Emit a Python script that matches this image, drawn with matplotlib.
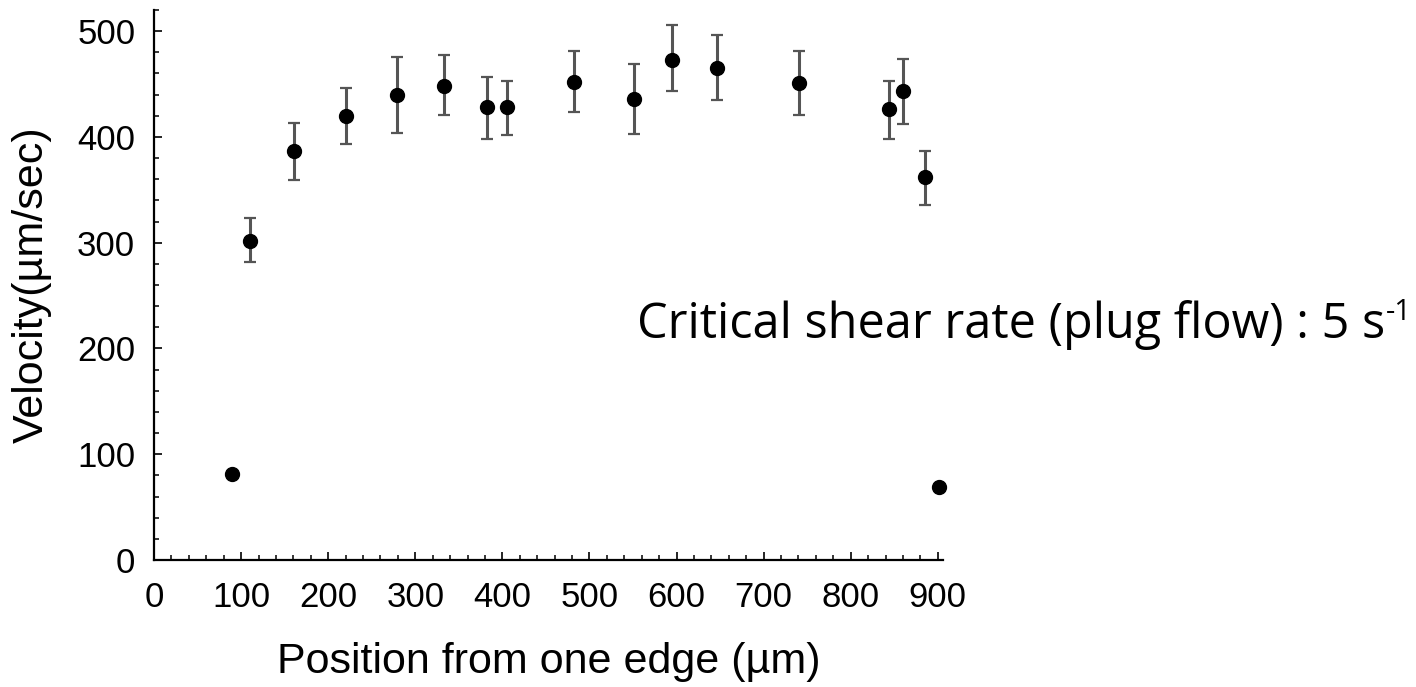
import matplotlib
matplotlib.use("Agg")
import matplotlib.pyplot as plt
from matplotlib.ticker import MultipleLocator

# Data
pos_err = [110, 161, 221, 279, 333, 382, 405, 482, 551, 595, 646, 741, 844, 860, 885]
vel_err = [302, 387, 420, 440, 448, 428, 428, 452, 436, 473, 465, 451, 426, 443, 362]
vel_lo = [282, 359, 393, 404, 421, 398, 402, 424, 403, 443, 435, 421, 398, 412, 336]
vel_hi = [323, 413, 446, 476, 477, 457, 453, 481, 469, 506, 496, 481, 453, 474, 387]
pos_edge = [90, 901]
vel_edge = [81, 69]

x_ticks = [0, 100, 200, 300, 400, 500, 600, 700, 800, 900]
y_ticks = [0, 100, 200, 300, 400, 500]
x_label = "Position from one edge (\u00b5m)"
y_label = "Velocity(\u00b5m/sec)"
note = "Critical shear rate (plug flow) : 5 s"
note_sup = "-1"

W, H = 1416, 687
fig = plt.figure(figsize=(W / 100, H / 100), dpi=100)
ax = fig.add_axes([154 / W, 1 - 560 / H, (943 - 154) / W, (560 - 10) / H])

lower = [v - l for v, l in zip(vel_err, vel_lo)]
upper = [h - v for v, h in zip(vel_err, vel_hi)]
ax.errorbar(pos_err, vel_err, yerr=[lower, upper], fmt='o', color='black',
            markersize=10, ecolor='#555555', elinewidth=2.2, capsize=4.5,
            capthick=1.6, zorder=3)
ax.plot(pos_edge, vel_edge, 'o', color='black', markersize=10, zorder=3,
        clip_on=False)

ax.set_xlim(0, 906)
ax.set_ylim(0, 520)
ax.set_xticks(x_ticks)
ax.set_yticks(y_ticks)
ax.xaxis.set_minor_locator(MultipleLocator(20))
ax.yaxis.set_minor_locator(MultipleLocator(20))

for s in ['top', 'right']:
    ax.spines[s].set_visible(False)
for s in ['left', 'bottom']:
    ax.spines[s].set_linewidth(1.6)
    ax.spines[s].set_color('black')

tick_font = 'Liberation Sans'
ax.tick_params(which='major', direction='in', length=6, width=1.2, labelsize=25,
               colors='black')
ax.tick_params(axis='x', which='major', pad=15)
ax.tick_params(axis='y', which='major', pad=13.5)
ax.tick_params(which='minor', direction='in', length=3.5, width=1.1)
for lab in ax.get_xticklabels() + ax.get_yticklabels():
    lab.set_fontfamily(tick_font)

ax.set_xlabel(x_label, fontsize=31, fontfamily=tick_font, labelpad=20)
ax.set_ylabel(y_label, fontsize=31, fontfamily=tick_font, labelpad=18)

t = fig.text(637 / W, 1 - 338 / H, note, fontsize=35, fontfamily='Open Sans',
             ha='left', va='baseline', color='black')
fig.canvas.draw()
bb = t.get_window_extent()
fig.text((bb.x1 + 1) / W, (1 - 338 / H) + 18 / H, note_sup, fontsize=21,
         fontfamily='Open Sans', ha='left', va='baseline', color='black')

fig.savefig("out.png", dpi=100, facecolor='white')
